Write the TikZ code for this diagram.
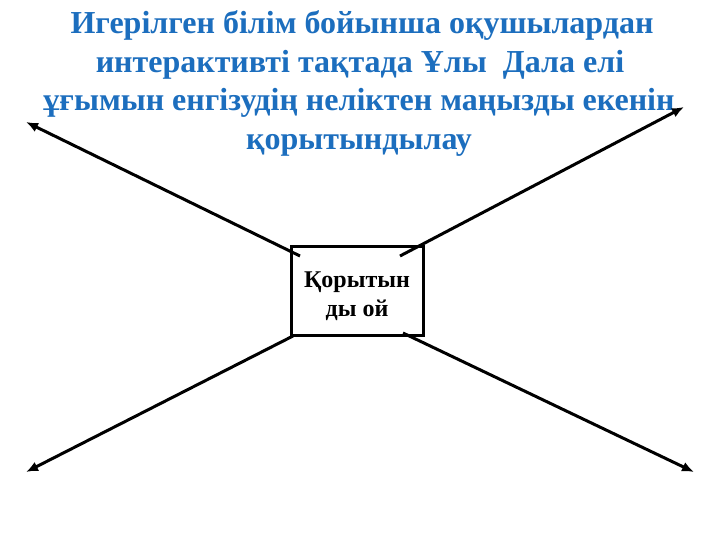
\documentclass[tikz,border=0pt]{standalone}
\usepackage{fontspec}
\usetikzlibrary{arrows.meta}
\setmainfont{Liberation Serif}
\newfontfamily\titlefont{Liberation Serif}
\definecolor{titleblue}{RGB}{28,110,190}
\tikzset{
  titleline/.style={anchor=base, text=titleblue, font=\titlefont\fontsize{32}{38}\bfseries\selectfont, inner sep=0pt},
  mainbox/.style={draw=black, line width=3pt, minimum width=132pt, minimum height=89pt, inner sep=0pt},
  boxtext/.style={anchor=base, font=\fontsize{24}{29}\bfseries\selectfont, inner sep=0pt},
  arrowline/.style={line width=3pt, -{Latex[length=12pt,width=10pt]}}
}
\begin{document}
\begin{tikzpicture}[x=1pt,y=-1pt]
\useasboundingbox (0,0) rectangle (720,540);
\fill[white] (0,0) rectangle (720,540);
\node[titleline] (t1) at (362,33.5) {Игерілген білім бойынша оқушылардан};
\node[titleline] (t2) at (360,72.5) {интерактивті тақтада Ұлы\ \ Дала елі};
\node[titleline] (t3) at (359,111) {ұғымын енгізудің неліктен маңызды екенін};
\node[titleline] (t4) at (359,150) {қорытындылау};
\node[mainbox] (box) at (357,290.5) {};
\node[boxtext] (b1) at (357,287) {Қорытын};
\node[boxtext] (b2) at (357,316) {ды ой};
\coordinate (uls) at (300,256);
\coordinate (ule) at (26,122);
\coordinate (urs) at (400,256);
\coordinate (ure) at (684,107);
\coordinate (lls) at (293,336);
\coordinate (lle) at (26,472);
\coordinate (lrs) at (403,333);
\coordinate (lre) at (694,472);
\draw[arrowline] (uls) -- (ule);
\draw[arrowline] (urs) -- (ure);
\draw[arrowline] (lls) -- (lle);
\draw[arrowline] (lrs) -- (lre);
\end{tikzpicture}
\end{document}
